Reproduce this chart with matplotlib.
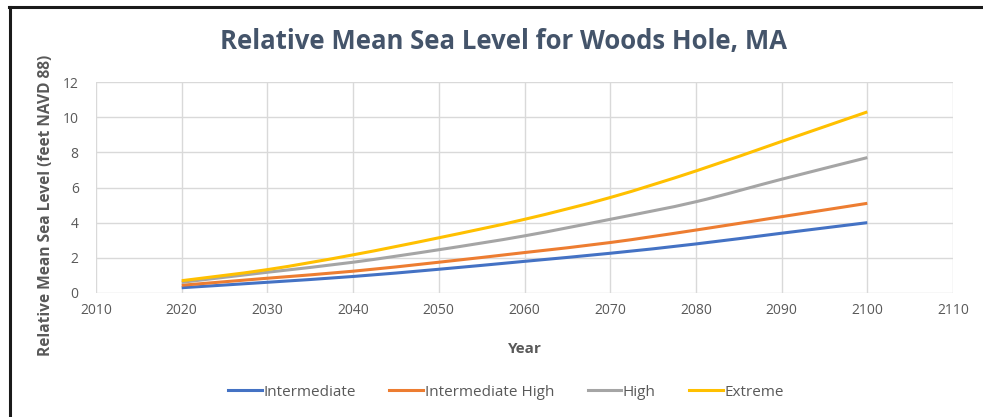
import matplotlib
matplotlib.use("Agg")
import matplotlib.pyplot as plt
from matplotlib.lines import Line2D
from matplotlib.path import Path
from matplotlib.patches import PathPatch

years = [2020, 2030, 2040, 2050, 2060, 2070, 2080, 2090, 2100]
intermediate = [0.30, 0.61, 0.94, 1.35, 1.80, 2.26, 2.79, 3.40, 4.00]
intermediate_high = [0.44, 0.84, 1.24, 1.75, 2.30, 2.87, 3.58, 4.34, 5.10]
high = [0.61, 1.18, 1.75, 2.46, 3.25, 4.19, 5.19, 6.47, 7.70]
extreme = [0.70, 1.33, 2.17, 3.14, 4.19, 5.43, 6.94, 8.62, 10.30]

series_names = ["Intermediate", "Intermediate High", "High", "Extreme"]
series_values = [intermediate, intermediate_high, high, extreme]
colors = ["#4472C4", "#ED7D31", "#A5A5A5", "#FFC000"]

x_ticks = [2010, 2020, 2030, 2040, 2050, 2060, 2070, 2080, 2090, 2100, 2110]
y_ticks = [0, 2, 4, 6, 8, 10, 12]

plt.rcParams['font.family'] = ['Open Sans', 'DejaVu Sans']
txt = "#595959"

fig = plt.figure(figsize=(9.83, 4.17), dpi=100)
W, H = 983, 417
ax = fig.add_axes([96 / W, 1 - 293 / H, 857 / W, 211 / H])


def smooth_path(xs, ys):
    # Excel-like smoothed line: Catmull-Rom segments as cubic Beziers
    pts = list(zip(xs, ys))
    n = len(pts)
    verts = [pts[0]]
    codes = [Path.MOVETO]
    for i in range(n - 1):
        p0 = pts[i - 1] if i > 0 else pts[i]
        p1 = pts[i]
        p2 = pts[i + 1]
        p3 = pts[i + 2] if i + 2 < n else pts[i + 1]
        c1 = (p1[0] + (p2[0] - p0[0]) / 6, p1[1] + (p2[1] - p0[1]) / 6)
        c2 = (p2[0] - (p3[0] - p1[0]) / 6, p2[1] - (p3[1] - p1[1]) / 6)
        verts += [c1, c2, p2]
        codes += [Path.CURVE4] * 3
    return Path(verts, codes)


for name, vals, c in zip(series_names, series_values, colors):
    ax.add_patch(PathPatch(smooth_path(years, vals), fill=False, edgecolor=c,
                           lw=2.2, capstyle='butt', joinstyle='round'))

ax.set_xlim(2010, 2110)
ax.set_ylim(0, 12)
ax.set_xticks(x_ticks)
ax.set_yticks(y_ticks)
ax.grid(True, color="#D9D9D9", lw=1.0)
ax.set_axisbelow(True)
for s in ax.spines.values():
    s.set_visible(False)
ax.tick_params(axis='x', length=0, labelsize=10, colors=txt, pad=7)
ax.tick_params(axis='y', length=0, labelsize=10, colors=txt, pad=12.5)

ax.set_xlabel("Year", fontsize=11, fontweight='bold', color=txt)
ax.xaxis.set_label_coords(0.5, -0.232)
ax.set_ylabel("Relative Mean Sea Level (feet NAVD 88)", fontsize=11.2,
              fontweight='bold', color=txt, va='center')
ax.yaxis.set_label_coords((46 - 96) / 857, (293 - 205) / 211)

fig.text(503 / W, 1 - 42 / H, "Relative Mean Sea Level for Woods Hole, MA",
         ha='center', va='center', fontsize=18.5, fontweight='bold', color="#44546A")

handles = [Line2D([], [], color=c, lw=2.2) for c in colors]
fig.legend(handles, series_names, loc='center', bbox_to_anchor=(506 / W, 1 - 392 / H),
           ncol=4, frameon=False, fontsize=11, handlelength=2.2, handletextpad=0.1,
           columnspacing=2.2, labelcolor=txt)

# outer frame
fig.add_artist(Line2D([9.5 / W, 9.5 / W], [0, 1 - 6.5 / H], color="#1A1A1A", lw=2.2,
                      transform=fig.transFigure))
fig.add_artist(Line2D([8.5 / W, 983 / W], [1 - 6.5 / H, 1 - 6.5 / H], color="#1A1A1A", lw=2.2,
                      transform=fig.transFigure))

fig.savefig("out.png", dpi=100)
